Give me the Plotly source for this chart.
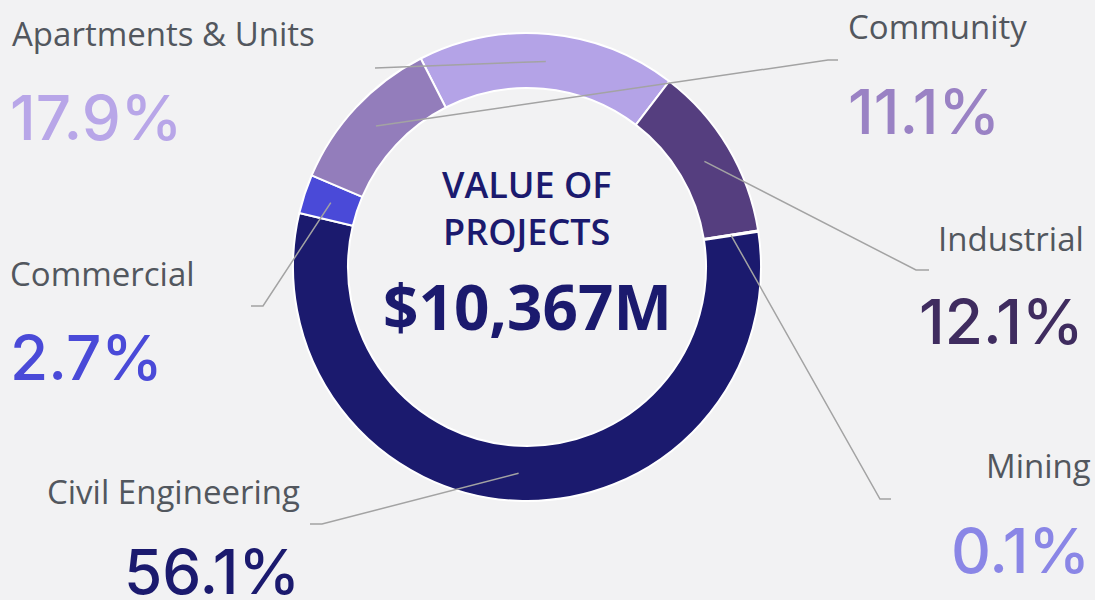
import math
import plotly.graph_objects as go

# ---- data ----
categories = ["Apartments & Units", "Industrial", "Mining", "Civil Engineering", "Commercial", "Community"]
shares = [17.9, 12.1, 0.1, 56.1, 2.7, 11.1]
pct_labels = ["17.9%", "12.1%", "0.1%", "56.1%", "2.7%", "11.1%"]
slice_colors = ["#b4a3e7", "#553e7f", "#8a86e6", "#1b1a6e", "#4a4ad8", "#937dbb"]
pct_colors = ["#b8a6e8", "#3f2c5f", "#8a86e6", "#1b1a6e", "#4a4ad8", "#9a82c4"]
center_title = "VALUE OF<br>PROJECTS"
center_value = "$10,367M"

W, H = 1095, 600
CX, CY, R_OUT, HOLE = 527, 267, 234, 0.765
ROT = -27

FONT = "Open Sans"
PCT_FONT = "Inter"
LABEL_COLOR = "#52575e"
LINE_COLOR = "#a3a3a3"
BG = "#f2f2f3"

fig = go.Figure()

fig.add_trace(go.Pie(
    labels=categories, values=shares, sort=False, direction="clockwise",
    rotation=ROT, hole=HOLE, textinfo="none", hoverinfo="label+percent",
    marker=dict(colors=slice_colors, line=dict(color="white", width=2)),
    showlegend=False,
    domain=dict(x=[(CX - R_OUT) / W, (CX + R_OUT) / W],
                y=[1 - (CY + R_OUT) / H, 1 - (CY - R_OUT) / H]),
))

# label layout: (name-anchor, name-x, name-y, pct-x, pct-y, elbow points)
layout_spec = {
    "Apartments & Units": dict(anchor="left", nx=10, ny=34, px=8, py=117, path=[(375, 68)]),
    "Industrial": dict(anchor="right", nx=1086, ny=238, px=1086, py=321, path=[(916, 270), (929, 270)]),
    "Mining": dict(anchor="right", nx=1093, ny=466, px=1092, py=550, path=[(880, 499), (891, 499)]),
    "Civil Engineering": dict(anchor="right", nx=302, ny=491, px=302, py=571, path=[(322, 524), (310, 524)]),
    "Commercial": dict(anchor="left", nx=8, ny=273, px=8, py=357, path=[(263, 306), (251, 306)]),
    "Community": dict(anchor="left", nx=846, ny=26, px=846, py=111, path=[(828, 60), (838, 60)]),
}

# hidden pixel axes for leader lines
fig.update_layout(
    xaxis=dict(range=[0, W], visible=False, fixedrange=True, domain=[0, 1]),
    yaxis=dict(range=[H, 0], visible=False, fixedrange=True, domain=[0, 1]),
)

total = sum(shares)
r_mid = R_OUT * (1 + HOLE) / 2
cum = 0.0
for name, v, pl, pc in zip(categories, shares, pct_labels, pct_colors):
    mid = ROT + (cum + v / 2) / total * 360
    cum += v
    sx = CX + r_mid * math.sin(math.radians(mid))
    sy = CY - r_mid * math.cos(math.radians(mid))
    spec = layout_spec[name]
    pts = [(sx, sy)] + spec["path"]
    d = "M " + " L ".join(f"{x:.1f},{y:.1f}" for x, y in pts)
    fig.add_shape(type="path", path=d, xref="x", yref="y",
                  line=dict(color=LINE_COLOR, width=1.5))
    fig.add_annotation(text=name, x=spec["nx"] / W, y=1 - spec["ny"] / H,
                       xref="paper", yref="paper", xanchor=spec["anchor"], yanchor="middle",
                       showarrow=False, font=dict(family=FONT, size=33, color=LABEL_COLOR))
    fig.add_annotation(text=pl, x=spec["px"] / W, y=1 - spec["py"] / H,
                       xref="paper", yref="paper", xanchor=spec["anchor"], yanchor="middle",
                       showarrow=False, font=dict(family=PCT_FONT, size=62, color=pc, weight=500))

# center text
fig.add_annotation(text=center_title, x=CX / W, y=1 - 208 / H, xref="paper", yref="paper",
                   xanchor="center", yanchor="middle", showarrow=False,
                   font=dict(family=FONT, size=36, color="#1b1a6e", weight=600))
fig.add_annotation(text=center_value, x=CX / W, y=1 - 306 / H, xref="paper", yref="paper",
                   xanchor="center", yanchor="middle", showarrow=False,
                   font=dict(family=FONT, size=62, color="#1b1a6e", weight=700))

fig.update_layout(
    width=W, height=H, margin=dict(l=0, r=0, t=0, b=0),
    paper_bgcolor=BG, plot_bgcolor=BG,
)

fig.write_html("out.html", config={"displayModeBar": False},
               post_script="document.body.style.margin='0';document.body.style.overflow='hidden';")
